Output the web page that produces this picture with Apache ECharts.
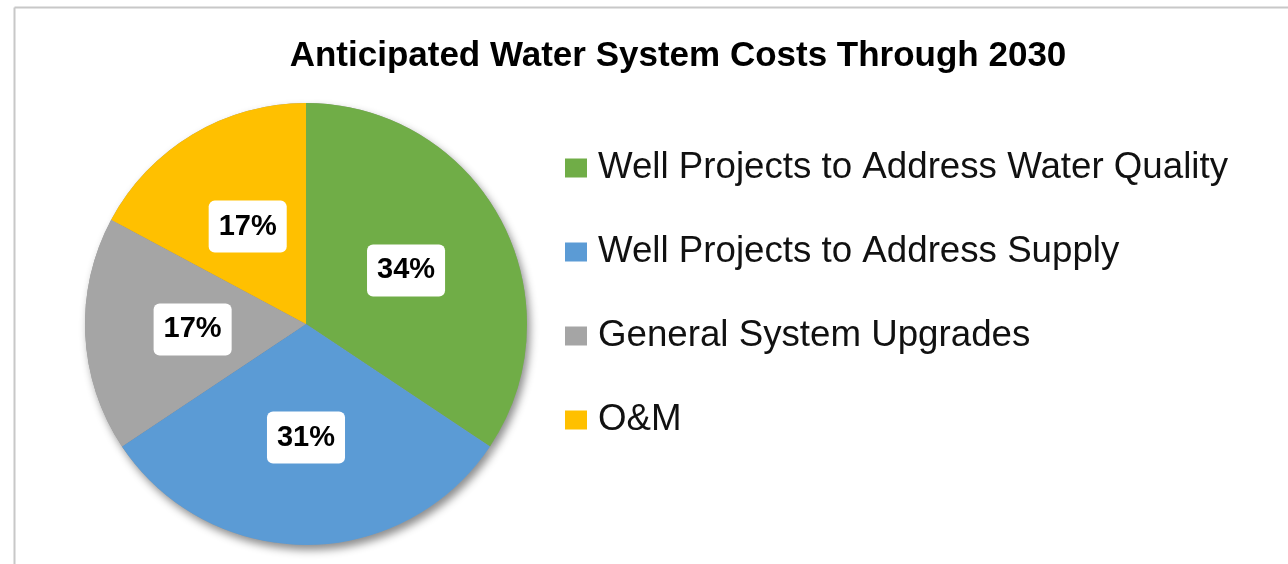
<!DOCTYPE html>
<html>
<head>
<meta charset="utf-8">
<script src="https://cdn.jsdelivr.net/npm/echarts@6/dist/echarts.min.js"></script>
<style>
  html, body { margin: 0; padding: 0; background: #fff; }
  #main { width: 1288px; height: 564px; }
</style>
</head>
<body>
<div id="main"></div>
<script>
// data
var categories = [
  "Well Projects to Address Water Quality",
  "Well Projects to Address Supply",
  "General System Upgrades",
  "O&M"
];
var shares = [34, 31, 17, 17];
var colors = ["#70AD47", "#5B9BD5", "#A5A5A5", "#FFC000"];

var chart = echarts.init(document.getElementById("main"));

var pieData = categories.map(function (name, i) {
  return { name: name, value: shares[i], itemStyle: { color: colors[i] } };
});

chart.setOption({
  animation: false,
  title: {
    text: "Anticipated Water System Costs Through 2030",
    left: 673,
    textAlign: "center",
    top: 34,
    textStyle: {
      fontFamily: "Liberation Sans, Arial, sans-serif",
      fontWeight: "bold",
      fontSize: 35,
      lineHeight: 35,
      color: "#000"
    }
  },
  legend: {
    orient: "vertical",
    left: 565,
    top: 148,
    padding: 0,
    itemWidth: 22,
    itemHeight: 19,
    itemGap: 44,
    icon: "rect",
    data: categories,
    textStyle: {
      fontFamily: "Liberation Sans, Arial, sans-serif",
      fontSize: 36.7,
      lineHeight: 40,
      color: "#111",
      padding: [0, 0, 0, 6]
    }
  },
  graphic: [
    // thin grey frame along top and left, as in the source image
    { type: "line", shape: { x1: 14.5, y1: 7.5, x2: 1288, y2: 7.5 }, style: { stroke: "#c8c8c8", lineWidth: 2 }, silent: true },
    { type: "line", shape: { x1: 14.5, y1: 7.5, x2: 14.5, y2: 564 }, style: { stroke: "#c8c8c8", lineWidth: 2 }, silent: true }
  ],
  series: [
    {
      type: "pie",
      z: 2,
      center: [306, 324],
      radius: 221,
      startAngle: 90,
      clockwise: true,
      itemStyle: { borderWidth: 0 },
      label: {
        show: true,
        position: "inside",
        formatter: function (p) { return p.value + "%"; },
        fontFamily: "Liberation Sans, Arial, sans-serif",
        fontWeight: "bold",
        fontSize: 29,
        lineHeight: 30,
        color: "#000",
        backgroundColor: "#fff",
        borderRadius: 6,
        padding: [12, 10, 10, 10]
      },
      labelLine: { show: false },
      emphasis: { disabled: true },
      data: pieData
    },
    {
      // shadow layer under the pie
      type: "pie",
      silent: true,
      z: 1,
      center: [306, 324],
      radius: 221,
      startAngle: 90,
      clockwise: true,
      label: { show: false },
      labelLine: { show: false },
      itemStyle: {
        color: "#999",
        shadowBlur: 8,
        shadowOffsetX: 3,
        shadowOffsetY: 5,
        shadowColor: "rgba(0,0,0,0.45)"
      },
      data: pieData.map(function (d) { return { name: d.name, value: d.value }; })
    }
  ]
});
</script>
</body>
</html>
